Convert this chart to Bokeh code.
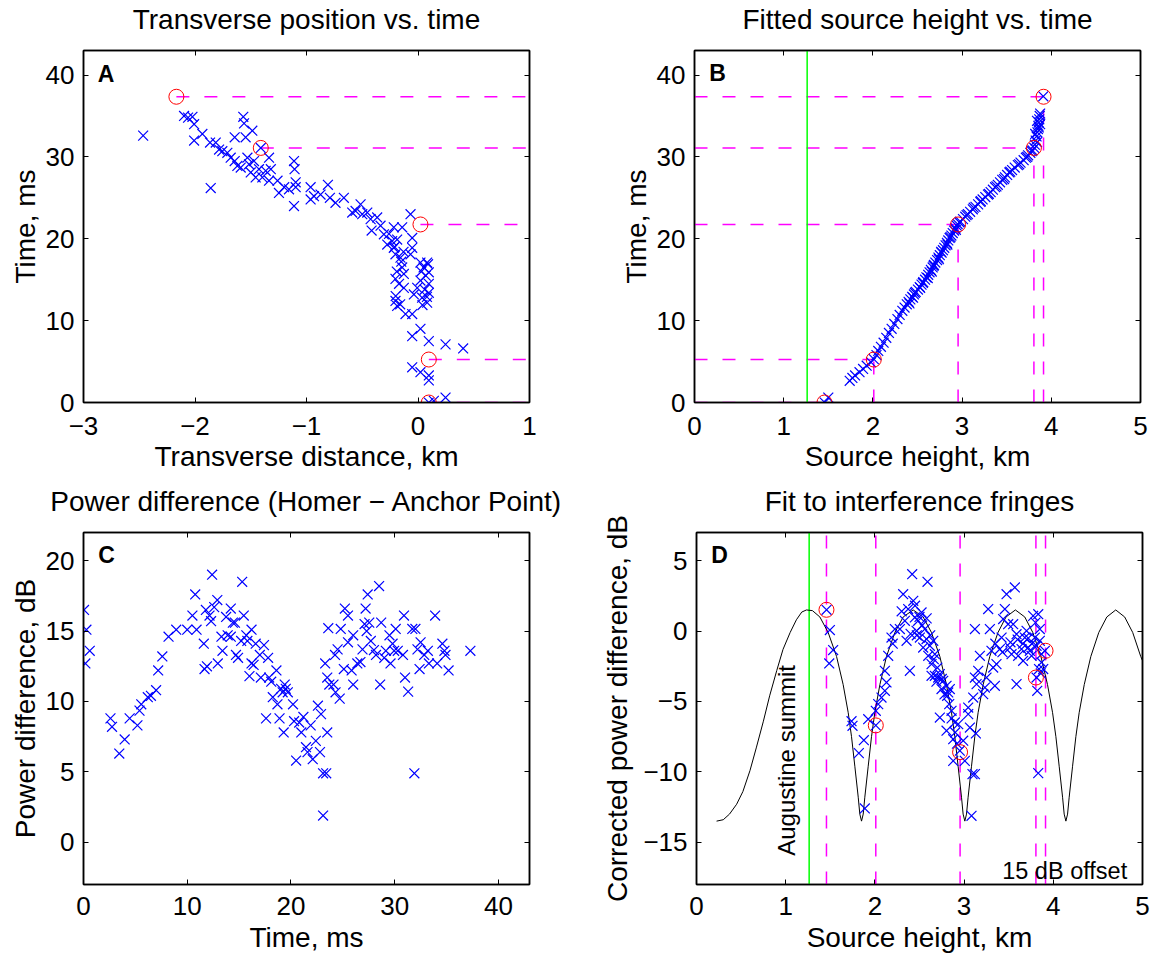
from bokeh.plotting import figure
from bokeh.models import Range1d, FixedTicker, LinearAxis, Label
from bokeh.layouts import column, row
from bokeh.embed import file_html
from bokeh.resources import INLINE

# ---------------- data ----------------
# key events (circled)
ev_t = [0.0, 5.25, 21.75, 31.1, 37.35]
ev_x = [0.097, 0.097, 0.022, -1.41, -2.167]
ev_h = [1.457, 2.01, 2.955, 3.805, 3.913]
ev_db = [1.51, -6.7, -8.6, -3.3, -1.4]
summit_h = 1.263

# Panel A: transverse distance (km) vs time (ms)
a_x = [-2.465, -2.098, -2.062, -2.023, -2.008, -2.008, -1.934, -1.859, -1.865, -1.814,
       -1.784, -1.755, -1.71, -1.68, -1.644, -1.644, -1.62, -1.59, -1.567, -1.56,
       -1.546, -1.53, -1.515, -1.50, -1.486, -1.471, -1.456, -1.426, -1.41, -1.396,
       -1.366, -1.336, -1.336, -1.32, -1.26, -1.247, -1.2, -1.157, -1.112, -1.107,
       -1.097, -1.097, -1.112, -0.963, -0.963, -0.933, -0.874, -0.808, -0.79, -0.74,
       -0.665, -0.59, -0.56, -0.515, -0.50, -0.455, -0.425, -0.416, -0.366, -0.336,
       -0.306, -0.276, -0.232, -0.217, -0.202, -0.217, -0.187, -0.142, -0.157, -0.142,
       -0.127, -0.202, -0.202, -0.187, -0.127, -0.067, -0.052, -0.052, -0.067, -0.037,
       -0.112, -0.052, 0.022, 0.022, 0.037, 0.082, 0.097, 0.097, 0.097, 0.082,
       -0.007, 0.022, -0.052, 0.097, 0.247, 0.405, -0.052, 0.022, 0.097, 0.097,
       0.097, 0.142, 0.247,
       0.05, 0.07, 0.06, 0.08, 0.03, 0.09, 0.04, -0.2, -0.19, -0.17, -0.15, -0.13, -0.21, -0.16, -0.26]
a_t = [32.6, 35.0, 34.8, 34.9, 34.0, 32.0, 32.8, 26.2, 31.75, 31.75,
       30.9, 30.7, 30.5, 29.9, 29.5, 32.4, 28.9, 28.7, 34.9, 34.1,
       32.4, 29.9, 29.1, 28.1, 33.2, 29.5, 27.5, 28.5, 31.1, 27.5,
       28.3, 29.9, 27.1, 28.5, 27.1, 25.6, 26.3, 26.05, 29.5, 28.5,
       26.9, 26.3, 24.0, 26.3, 24.8, 25.2, 25.4, 26.6, 25.0, 24.4,
       25.0, 23.2, 23.4, 24.2, 23.0, 23.2, 22.4, 21.0, 22.6, 21.6,
       20.55, 19.3, 19.7, 21.4, 18.1, 18.9, 19.9, 21.4, 17.7, 16.5,
       15.7, 15.1, 12.4, 11.8, 14.0, 23.0, 20.1, 18.9, 18.1, 13.2,
       10.8, 10.8, 17.1, 14.9, 12.8, 17.1, 15.9, 14.5, 13.4, 12.2,
       14.0, 9.0, 8.1, 7.5, 7.1, 6.6, 4.3, 3.7, 3.3, 2.7,
       0.0, 0.2, 0.6,
       16.5, 15.5, 13.8, 12.9, 16.0, 16.9, 11.9, 13.0, 16.0, 14.5, 17.2, 18.4, 19.0, 12.0, 20.6]

# Panel B: fitted source height (km) vs time (ms)
b_h = [1.46, 1.50, 1.74, 1.77, 1.80, 1.85, 1.89, 1.93, 1.98, 2.01,
       2.04, 2.06, 2.09, 2.12, 2.15, 2.18, 2.21, 2.24, 2.275, 2.30,
       2.33, 2.355, 2.38, 2.40, 2.42, 2.44, 2.46, 2.48, 2.505, 2.525,
       2.545, 2.565, 2.585, 2.60, 2.62, 2.635, 2.65, 2.67, 2.685, 2.70,
       2.72, 2.735, 2.75, 2.77, 2.785, 2.80, 2.815, 2.83, 2.845, 2.86,
       2.88, 2.895, 2.91, 2.925, 2.94, 2.95, 2.98, 3.01, 3.035, 3.065,
       3.09, 3.12, 3.15, 3.18, 3.205, 3.23, 3.26, 3.29, 3.32, 3.345,
       3.37, 3.40, 3.425, 3.45, 3.48, 3.505, 3.53, 3.56, 3.59, 3.625,
       3.655, 3.69, 3.715, 3.74, 3.765, 3.79, 3.81, 3.815, 3.825, 3.835,
       3.845, 3.85, 3.855, 3.86, 3.865, 3.87, 3.91,
       2.41, 2.45, 2.47, 2.53, 2.56, 2.615, 2.66, 2.68, 2.74, 2.765,
       2.835, 2.87, 2.93, 2.97, 3.05, 3.13, 3.21, 3.30, 3.385, 3.47,
       3.54, 3.64, 3.73, 3.78, 3.84, 3.82, 3.86, 3.84, 3.875, 3.875]
b_t = [0.0, 0.6, 2.65, 3.0, 3.3, 3.7, 4.1, 4.5, 4.9, 5.3,
       5.8, 6.3, 6.8, 7.3, 7.9, 8.5, 9.0, 9.6, 10.2, 10.7,
       11.2, 11.6, 12.0, 12.3, 12.6, 12.9, 13.2, 13.5, 13.8, 14.1,
       14.4, 14.7, 15.0, 15.3, 15.6, 15.9, 16.2, 16.5, 16.8, 17.1,
       17.4, 17.7, 18.0, 18.3, 18.6, 18.9, 19.2, 19.5, 19.8, 20.1,
       20.4, 20.7, 21.0, 21.3, 21.6, 21.8, 22.1, 22.4, 22.7, 23.0,
       23.3, 23.6, 23.9, 24.2, 24.5, 24.8, 25.1, 25.4, 25.7, 26.0,
       26.3, 26.6, 26.9, 27.2, 27.5, 27.8, 28.1, 28.4, 28.7, 29.0,
       29.3, 29.6, 29.9, 30.2, 30.5, 30.8, 31.1, 31.5, 32.0, 32.5,
       33.0, 33.4, 33.8, 34.2, 34.6, 35.0, 37.4,
       12.1, 12.8, 13.4, 14.0, 14.6, 15.2, 16.0, 16.7, 17.5, 18.4,
       19.3, 20.2, 21.1, 22.0, 22.9, 23.8, 24.6, 25.5, 26.4, 27.3,
       28.2, 29.1, 30.0, 30.7, 31.8, 32.8, 33.6, 34.4, 35.3, 34.0]

# Panel C: power difference (dB) vs time (ms)
c_t = [0.05, 0.28, 0.6, 0.18, 2.6, 2.75, 3.45, 3.97, 4.45, 5.2,
       5.4, 5.57, 6.2, 6.5, 7.0, 7.2, 7.6, 8.2, 8.94, 10.0,
       10.5, 10.77, 10.9, 11.6, 11.67, 11.9, 11.8, 12.15, 12.4, 12.3,
       12.6, 12.9, 12.95, 13.3, 13.4, 13.75, 13.9, 14.2, 14.4, 14.2,
       14.6, 14.7, 14.9, 15.3, 15.45, 15.2, 15.7, 15.8, 16.2, 16.0,
       16.2, 16.4, 16.6, 17.0, 17.1, 17.4, 17.6, 17.8, 17.9, 18.1,
       18.25, 18.6, 18.7, 18.9, 19.05, 19.2, 19.4, 19.5, 19.7, 19.3,
       20.2, 20.3, 20.5, 20.8, 21.0, 21.2, 21.45, 21.6, 21.9, 22.1,
       22.4, 22.6, 22.9, 22.8, 23.1, 23.4, 23.1, 23.5, 23.3, 23.6,
       23.5, 23.7, 24.1, 24.3, 24.7, 24.25, 24.5, 24.8, 25.2, 25.5,
       25.1, 25.5, 25.85, 26.0, 26.0, 26.4, 26.7, 26.9, 27.1, 27.2,
       27.4, 27.55, 27.3, 27.7, 28.0, 28.2, 28.5, 28.7, 28.6, 29.0,
       29.15, 29.5, 29.6, 29.8, 29.95, 30.1, 30.3, 30.8, 30.9, 31.0,
       31.3, 31.7, 32.0, 31.9, 32.2, 32.4, 32.5, 32.85, 33.2, 33.3,
       33.9, 34.1, 34.6, 34.8, 34.9, 35.2, 37.3]
c_db = [16.5, 15.1, 13.6, 12.7, 8.8, 8.2, 6.3, 7.3, 8.8, 8.3,
        9.35, 9.8, 10.3, 10.4, 10.8, 12.2, 13.2, 14.6, 15.1, 15.1,
        16.1, 17.6, 15.1, 14.1, 12.3, 12.5, 16.5, 16.1, 19.0, 15.7,
        16.7, 17.2, 12.7, 14.6, 13.6, 16.0, 14.7, 16.6, 15.6, 14.6,
        15.6, 13.3, 13.1, 18.5, 16.1, 14.3, 14.7, 14.3, 15.1, 11.8,
        12.7, 12.6, 14.1, 13.3, 11.7, 14.0, 8.8, 13.1, 11.7, 11.4,
        10.3, 12.2, 9.8, 8.8, 10.9, 10.65, 11.2, 10.9, 10.65, 7.8,
        9.8, 8.6, 5.8, 8.5, 7.8, 8.9, 6.75, 6.4, 8.3, 5.9,
        7.2, 9.7, 9.1, 6.4, 4.9, 4.9, 1.9, 7.8, 12.7, 15.2,
        11.7, 11.2, 11.2, 10.65, 10.2, 13.3, 13.7, 15.15, 16.6, 16.1,
        12.3, 14.2, 12.2, 14.7, 11.2, 12.7, 12.8, 13.7, 15.5, 16.6,
        17.6, 15.6, 15.0, 14.3, 13.65, 13.3, 18.2, 15.6, 11.2, 13.1,
        13.6, 14.7, 12.7, 14.1, 13.6, 15.15, 13.6, 13.3, 16.1, 11.7,
        10.7, 15.15, 15.15, 4.9, 13.7, 12.3, 14.2, 13.3, 13.6, 12.7,
        16.1, 12.7, 14.1, 13.6, 13.3, 12.2, 13.6]

# Panel D: corrected power difference (dB) vs source height (km)
d_h = [1.458, 1.495, 1.532, 1.488, 1.738, 1.749, 1.82, 1.876, 1.887, 1.925,
       2.01, 2.01, 2.037, 2.074, 2.112, 2.13, 2.112, 2.149, 2.186, 2.224,
       2.28, 2.317, 2.336, 2.373, 2.355, 2.392, 2.43, 2.418, 2.448, 2.467,
       2.485, 2.504, 2.523, 2.541, 2.56, 2.579, 2.59, 2.598, 2.616, 2.635,
       2.654, 2.672, 2.635, 2.672, 2.71, 2.728, 2.747, 2.728, 2.766, 2.803,
       2.822, 2.84, 2.833, 2.803, 2.859, 2.896, 2.878, 2.934, 2.878, 2.952,
       2.99, 3.008, 3.046, 3.046, 3.065, 3.094, 3.121, 3.083, 3.132, 3.102,
       3.121, 3.14, 3.158, 3.177, 3.121, 3.214, 3.233, 3.251, 3.27, 3.289,
       3.307, 3.326, 3.345, 3.363, 3.401, 3.42, 3.438, 3.457, 3.476, 3.494,
       3.513, 3.532, 3.569, 3.55, 3.588, 3.606, 3.588, 3.644, 3.662, 3.681,
       3.7, 3.718, 3.737, 3.756, 3.774, 3.793, 3.812, 3.812, 3.82, 3.831,
       3.849, 3.849, 3.868, 3.868, 3.887, 3.905, 3.831,
       2.45, 2.50, 2.53, 2.47, 2.58, 2.62, 2.66, 2.70, 2.69, 2.75,
       2.78, 2.81, 2.86, 2.90, 2.92, 3.35, 3.43, 3.52, 3.60, 3.66,
       3.72, 3.76, 3.80, 3.84, 3.86, 2.30, 2.40, 2.20]
d_db = [1.51, 0.07, -1.35, -2.3, -6.4, -6.73, -8.67, -7.75, -12.6, -6.26,
        -6.7, -5.66, -5.19, -4.72, -4.24, -3.65, -2.82, -1.76, -0.46, 0.14,
        0.14, 2.62, 0.73, 1.56, -0.69, -2.82, 2.15, 4.04, 0.97, 0.02,
        0.73, -0.46, 1.32, -1.17, 0.14, -0.57, 3.5, -1.76, -1.05, -2.35,
        -0.69, -1.64, -3.18, -3.18, -3.3, -3.06, -4.12, -6.14, -3.53, -3.89,
        -4.36, -4.12, -5.19, -7.08, -5.66, -6.49, -7.68, -6.61, -9.22, -8.5,
        -7.79, -9.22, -5.43, -5.9, -6.85, -10.16, -10.16, -13.12, -7.27, -4.72,
        -3.3, -3.77, -2.82, -1.76, 0.14, -4.48, -4.01, -3.3, 1.56, 0.14,
        -1.4, -2.59, -3.89, -2.35, -1.28, -0.46, 0.85, 1.56, 2.62, 0.49,
        -1.17, -1.64, 3.1, 0.49, -0.22, -1.76, -3.77, -1.28, -2.11, -0.46,
        0.02, -1.17, -1.4, -1.76, 1.08, -0.46, -1.05, -3.3, -4.24, 1.2,
        0.14, -0.69, -1.64, -2.23, -2.7, -1.4, -10.09,
        1.8, 1.0, 0.4, -0.3, 0.9, -0.3, -2.0, -2.6, -3.6, -3.4,
        -4.5, -4.6, -6.2, -7.2, -8.0, -0.9, -1.5, -0.8, -0.6, -0.9,
        -0.5, -0.9, 0.6, -2.7, -3.0, 1.4, -0.2, -0.9]

# fitted interference-fringe model
fit_h = [0.225, 0.30, 0.37, 0.45, 0.52, 0.60, 0.67, 0.75, 0.82, 0.90, 0.97, 1.05, 1.12, 1.18, 1.233,
         1.30, 1.383, 1.476, 1.57, 1.644, 1.701, 1.738, 1.775, 1.813, 1.831, 1.85,
         1.869, 1.887, 1.925, 1.962, 1.999, 2.056, 2.13, 2.224, 2.317, 2.429,
         2.541, 2.634, 2.728, 2.802, 2.859, 2.896, 2.933, 2.971, 2.989, 3.008,
         3.027, 3.045, 3.083, 3.12, 3.157, 3.214, 3.288, 3.38, 3.47, 3.575,
         3.68, 3.77, 3.861, 3.935, 3.992, 4.029, 4.066, 4.104, 4.122, 4.141,
         4.16, 4.178, 4.216, 4.253, 4.29, 4.347, 4.421, 4.51, 4.60, 4.70,
         4.80, 4.89, 4.98, 5.0]
fit_db = [-13.5, -13.4, -13.0, -12.3, -11.4, -9.9, -8.3, -6.4, -4.6, -2.8, -1.3, -0.1, 0.8, 1.35, 1.5,
          1.45, 1.0, -0.1, -1.8, -3.8, -5.8, -7.5, -9.6, -11.8, -13.0, -13.5,
          -13.0, -11.8, -9.6, -7.5, -5.8, -3.8, -1.8, -0.1, 1.0, 1.5,
          1.0, -0.1, -1.8, -3.8, -5.8, -7.5, -9.6, -11.8, -13.0, -13.5,
          -13.0, -11.8, -9.6, -7.5, -5.8, -3.8, -1.8, -0.1, 1.0, 1.5,
          1.0, -0.1, -1.8, -3.8, -5.8, -7.5, -9.6, -11.8, -13.0, -13.5,
          -13.0, -11.8, -9.6, -7.5, -5.8, -3.8, -1.8, -0.1, 1.0, 1.5,
          1.0, -0.1, -1.8, -2.1]

# axes definitions
a_xticks = [-3, -2, -1, 0, 1]
t_ticks = [0, 10, 20, 30, 40]
h_ticks = [0, 1, 2, 3, 4, 5]
c_yticks = [0, 5, 10, 15, 20]
d_yticks = [-15, -10, -5, 0, 5]

# ---------------- styling helpers ----------------
FONT = "Liberation Sans"
TICK_FS = "26px"
LAB_FS = "28px"
BLUE = "#0000FF"
RED = "#FF0000"
MAG = "#FF00FF"
GREEN = "#00FF00"
DASH = "13 15"
MSIZE = 14


def fmt(t):
    return str(t).replace("-", "\u2212")


def style_axis(ax, ticks, label=None, show_labels=True, label_standoff=5, tick_standoff=9):
    ax.ticker = FixedTicker(ticks=ticks)
    ax.major_tick_in = 5
    ax.major_tick_out = 0
    ax.minor_tick_line_color = None
    ax.major_tick_line_color = "black"
    ax.major_tick_line_width = 1
    ax.axis_line_color = "black"
    ax.axis_line_width = 1.5
    ax.major_label_text_font = FONT
    if show_labels:
        ax.major_label_overrides = {t: fmt(t) for t in ticks}
        ax.major_label_text_color = "black"
        ax.major_label_text_font_size = TICK_FS
        ax.major_label_standoff = tick_standoff
    else:
        ax.major_label_text_color = None
        ax.major_label_text_font_size = "1px"
        ax.major_label_standoff = 0
    if label:
        ax.axis_label = label
        ax.axis_label_text_font = FONT
        ax.axis_label_text_font_size = LAB_FS
        ax.axis_label_text_font_style = "normal"
        ax.axis_label_text_color = "black"
        ax.axis_label_standoff = label_standoff


def make_fig(xr, yr, xticks, yticks, xlabel, ylabel, title, bl, br, bt, bb,
             ylab_standoff=2, xtick_standoff=14, xlab_standoff=3):
    p = figure(x_range=Range1d(*xr), y_range=Range1d(*yr),
               frame_width=446, frame_height=352,
               min_border_left=bl, min_border_right=br,
               min_border_top=bt, min_border_bottom=bb,
               toolbar_location=None, output_backend="svg", title=None)
    p.grid.visible = False
    p.background_fill_color = "white"
    p.border_fill_color = "white"
    p.outline_line_color = "black"
    p.outline_line_width = 1.5
    style_axis(p.xaxis[0], xticks, xlabel, label_standoff=xlab_standoff,
               tick_standoff=xtick_standoff)
    style_axis(p.yaxis[0], yticks, ylabel, label_standoff=ylab_standoff, tick_standoff=9)
    # top axis: inward ticks only, and the panel title as its label
    top = LinearAxis()
    style_axis(top, xticks, title, show_labels=False, label_standoff=16)
    p.add_layout(top, "above")
    right = LinearAxis()
    style_axis(right, yticks, None, show_labels=False)
    p.add_layout(right, "right")
    return p


def letter(p, x, y, txt):
    p.add_layout(Label(x=x, y=y, text=txt, text_font=FONT, text_font_size="23px",
                       text_font_style="bold", text_baseline="middle", text_align="left",
                       text_color="black"))


# ---------------- Panel A ----------------
pa = make_fig((-3, 1), (0, 43), a_xticks, t_ticks, "Transverse distance, km", "Time, ms",
              "Transverse position vs. time", 83, 70, 50, 76)
pa.segment(x0=ev_x, y0=ev_t, x1=[pa.x_range.end] * len(ev_t), y1=ev_t,
           line_color=MAG, line_width=1.5, line_dash=DASH)
pa.scatter(a_x, a_t, marker="x", size=MSIZE, line_color=BLUE, line_width=1.2)
pa.scatter(ev_x, ev_t, marker="circle", size=15, fill_color=None, line_color=RED, line_width=1)
letter(pa, -2.872, 40.07, "A")

# ---------------- Panel B ----------------
pb = make_fig((0, 5), (0, 43), h_ticks, t_ticks, "Source height, km", "Time, ms",
              "Fitted source height vs. time", 95, 12, 50, 76)
pb.segment(x0=[pb.x_range.start] * len(ev_t), y0=ev_t, x1=ev_h, y1=ev_t,
           line_color=MAG, line_width=1.5, line_dash=DASH)
pb.segment(x0=ev_h, y0=[pb.y_range.start] * len(ev_t), x1=ev_h, y1=ev_t,
           line_color=MAG, line_width=1.5, line_dash=DASH)
pb.segment(x0=[summit_h], y0=[pb.y_range.start], x1=[summit_h], y1=[pb.y_range.end],
           line_color=GREEN, line_width=1.5)
pb.scatter(b_h, b_t, marker="x", size=MSIZE, line_color=BLUE, line_width=1.2)
pb.scatter(ev_h, ev_t, marker="circle", size=15, fill_color=None, line_color=RED, line_width=1)
letter(pb, 0.165, 40.2, "B")

# ---------------- Panel C ----------------
pc = make_fig((0, 43), (-3, 22), t_ticks, c_yticks, "Time, ms", "Power difference, dB",
              "Power difference (Homer \u2212 Anchor Point)", 83, 70, 54, 74,
              xtick_standoff=12, xlab_standoff=4)
pc.scatter(c_t, c_db, marker="x", size=MSIZE, line_color=BLUE, line_width=1.2)
letter(pc, 1.43, 20.43, "C")

# ---------------- Panel D ----------------
pd = make_fig((0, 5), (-18, 7), h_ticks, d_yticks, "Source height, km",
              "Corrected power difference, dB", "Fit to interference fringes", 95, 12, 54, 74,
              ylab_standoff=7, xtick_standoff=12, xlab_standoff=4)
pd.segment(x0=ev_h, y0=[pd.y_range.start] * len(ev_h), x1=ev_h, y1=[pd.y_range.end] * len(ev_h),
           line_color=MAG, line_width=1.5, line_dash=DASH)
pd.segment(x0=[summit_h], y0=[pd.y_range.start], x1=[summit_h], y1=[pd.y_range.end],
           line_color=GREEN, line_width=1.5)
pd.line(fit_h, fit_db, line_color="black", line_width=1)
pd.scatter(d_h, d_db, marker="x", size=MSIZE, line_color=BLUE, line_width=1.2)
pd.scatter(ev_h, ev_db, marker="circle", size=15, fill_color=None, line_color=RED, line_width=1)
letter(pd, 0.165, 5.42, "D")
pd.add_layout(Label(x=1.014, y=-15.96, text="Augustine summit", angle=90, angle_units="deg",
                    text_font=FONT, text_font_size="24px", text_baseline="middle",
                    text_align="left", text_color="black"))
pd.add_layout(Label(x=3.427, y=-17.02, text="15 dB offset", text_font=FONT,
                    text_font_size="23.5px", text_baseline="middle", text_align="left",
                    text_color="black"))

layout = column(row(pa, pb), row(pc, pd))
open("out.html", "w").write(file_html(layout, INLINE))
